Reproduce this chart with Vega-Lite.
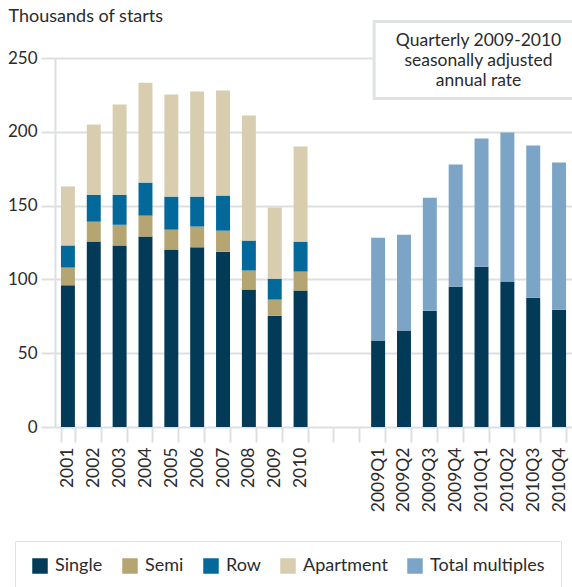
{
  "$schema": "https://vega.github.io/schema/vega-lite/v6.json",
  "autosize": {"type": "none"},
  "padding": {"left": 55, "top": 58, "right": 0, "bottom": 160},
  "width": 517,
  "height": 369,
  "background": "white",
  "config": {
    "font": "Lato",
    "view": {"stroke": null},
    "axis": {"labelColor": "#2b2b2b", "titleColor": "#2b2b2b", "labelFont": "Lato", "titleFont": "Lato"},
    "legend": {"labelFont": "Lato"}
  },
  "datasets": {
    "starts": [
      {"period": "2001", "type": "Single", "value": 96},
      {"period": "2001", "type": "Semi", "value": 12},
      {"period": "2001", "type": "Row", "value": 15},
      {"period": "2001", "type": "Apartment", "value": 40},
      {"period": "2002", "type": "Single", "value": 125.6},
      {"period": "2002", "type": "Semi", "value": 13.5},
      {"period": "2002", "type": "Row", "value": 18.3},
      {"period": "2002", "type": "Apartment", "value": 47.5},
      {"period": "2003", "type": "Single", "value": 123},
      {"period": "2003", "type": "Semi", "value": 14},
      {"period": "2003", "type": "Row", "value": 20.4},
      {"period": "2003", "type": "Apartment", "value": 61.1},
      {"period": "2004", "type": "Single", "value": 129},
      {"period": "2004", "type": "Semi", "value": 14.2},
      {"period": "2004", "type": "Row", "value": 22.4},
      {"period": "2004", "type": "Apartment", "value": 67.7},
      {"period": "2005", "type": "Single", "value": 120.2},
      {"period": "2005", "type": "Semi", "value": 13.5},
      {"period": "2005", "type": "Row", "value": 22.4},
      {"period": "2005", "type": "Apartment", "value": 69.1},
      {"period": "2006", "type": "Single", "value": 121.7},
      {"period": "2006", "type": "Semi", "value": 14.1},
      {"period": "2006", "type": "Row", "value": 20.3},
      {"period": "2006", "type": "Apartment", "value": 71.2},
      {"period": "2007", "type": "Single", "value": 118.8},
      {"period": "2007", "type": "Semi", "value": 14.2},
      {"period": "2007", "type": "Row", "value": 23.8},
      {"period": "2007", "type": "Apartment", "value": 71.2},
      {"period": "2008", "type": "Single", "value": 93.1},
      {"period": "2008", "type": "Semi", "value": 12.9},
      {"period": "2008", "type": "Row", "value": 20.3},
      {"period": "2008", "type": "Apartment", "value": 84.7},
      {"period": "2009", "type": "Single", "value": 75.4},
      {"period": "2009", "type": "Semi", "value": 10.9},
      {"period": "2009", "type": "Row", "value": 14.2},
      {"period": "2009", "type": "Apartment", "value": 48.2},
      {"period": "2010", "type": "Single", "value": 92.5},
      {"period": "2010", "type": "Semi", "value": 12.8},
      {"period": "2010", "type": "Row", "value": 20.3},
      {"period": "2010", "type": "Apartment", "value": 64.4},
      {"period": "2009Q1", "type": "Single", "value": 58.6},
      {"period": "2009Q1", "type": "Total multiples", "value": 69.7},
      {"period": "2009Q2", "type": "Single", "value": 65.3},
      {"period": "2009Q2", "type": "Total multiples", "value": 65},
      {"period": "2009Q3", "type": "Single", "value": 78.8},
      {"period": "2009Q3", "type": "Total multiples", "value": 76.6},
      {"period": "2009Q4", "type": "Single", "value": 95.1},
      {"period": "2009Q4", "type": "Total multiples", "value": 82.7},
      {"period": "2010Q1", "type": "Single", "value": 108.6},
      {"period": "2010Q1", "type": "Total multiples", "value": 86.8},
      {"period": "2010Q2", "type": "Single", "value": 98.5},
      {"period": "2010Q2", "type": "Total multiples", "value": 101},
      {"period": "2010Q3", "type": "Single", "value": 87.6},
      {"period": "2010Q3", "type": "Total multiples", "value": 103.1},
      {"period": "2010Q4", "type": "Single", "value": 79.5},
      {"period": "2010Q4", "type": "Total multiples", "value": 99.7}
    ],
    "note": [
      {"x": "2009Q1", "x2": "2010Q4", "y": 222.5, "y2": 274.7, "textx": "2010Q1", "texty": 258.4, "label": "Quarterly 2009-2010|seasonally adjusted|annual rate"}
    ]
  },
  "layer": [
    {
      "data": {"name": "starts"},
      "transform": [
        {"calculate": "indexof(['Single','Semi','Row','Apartment','Total multiples'], datum.type)", "as": "rank"}
      ],
      "mark": {"type": "bar"},
      "encoding": {
        "x": {
          "field": "period",
          "type": "nominal",
          "scale": {
            "domain": ["2001","2002","2003","2004","2005","2006","2007","2008","2009","2010"," ","  ","2009Q1","2009Q2","2009Q3","2009Q4","2010Q1","2010Q2","2010Q3","2010Q4"],
            "paddingInner": 0.46,
            "paddingOuter": 0.23
          },
          "axis": {
            "title": null,
            "labelAngle": -90,
            "labelAlign": "right",
            "labelBaseline": "middle",
            "labelFontSize": 17.5,
            "labelPadding": 5,
            "tickBand": "extent",
            "tickSize": 15,
            "tickColor": "#dde0e1",
            "tickWidth": 2,
            "domain": false,
            "grid": false
          }
        },
        "y": {
          "field": "value",
          "type": "quantitative",
          "stack": "zero",
          "scale": {"domain": [0, 250], "nice": false},
          "axis": {
            "values": [0, 50, 100, 150, 200, 250],
            "title": "Thousands of starts",
            "titleAngle": 0,
            "titleAlign": "left",
            "titleBaseline": "alphabetic",
            "titleX": -47,
            "titleY": -37,
            "titleFontSize": 18,
            "titleFontWeight": "normal",
            "labelFontSize": 17,
            "labelPadding": 4,
            "tickSize": 14,
            "tickColor": "#dde0e1",
            "tickWidth": 2,
            "domainColor": "#dde0e1",
            "domainWidth": 2,
            "gridColor": "#dde0e1",
            "gridWidth": 2
          }
        },
        "color": {
          "field": "type",
          "type": "nominal",
          "scale": {
            "domain": ["Single", "Semi", "Row", "Apartment", "Total multiples"],
            "range": ["#023a58", "#b4a572", "#02699a", "#d8cdaf", "#7ba4c6"]
          },
          "legend": {
            "title": null,
            "orient": "none",
            "direction": "horizontal",
            "legendX": -40,
            "legendY": 483,
            "padding": 16,
            "strokeColor": "#dfe2e3",
            "fillColor": "white",
            "symbolType": "square",
            "symbolSize": 240,
            "symbolStrokeWidth": 0,
            "symbolOpacity": 1,
            "labelFontSize": 18,
            "labelColor": "#2b2b2b",
            "labelOffset": 6,
            "columnPadding": 18
          }
        },
        "order": {"field": "rank", "type": "quantitative", "sort": "ascending"}
      }
    },
    {
      "data": {"name": "note"},
      "mark": {"type": "rect", "fill": "white", "stroke": "#dfe2e3", "strokeWidth": 3, "xOffset": -4, "x2Offset": 40},
      "encoding": {
        "x": {"field": "x", "type": "nominal"},
        "x2": {"field": "x2", "bandPosition": 1},
        "y": {"field": "y", "type": "quantitative"},
        "y2": {"field": "y2"}
      }
    },
    {
      "data": {"name": "note"},
      "transform": [{"calculate": "split(datum.label, '|')", "as": "lines"}],
      "mark": {"type": "text", "align": "center", "baseline": "alphabetic", "fontSize": 17.5, "lineHeight": 20, "color": "#2b2b2b", "font": "Lato", "xOffset": -3},
      "encoding": {
        "x": {"field": "textx", "type": "nominal"},
        "y": {"field": "texty", "type": "quantitative"},
        "text": {"field": "lines"}
      }
    }
  ]
}
